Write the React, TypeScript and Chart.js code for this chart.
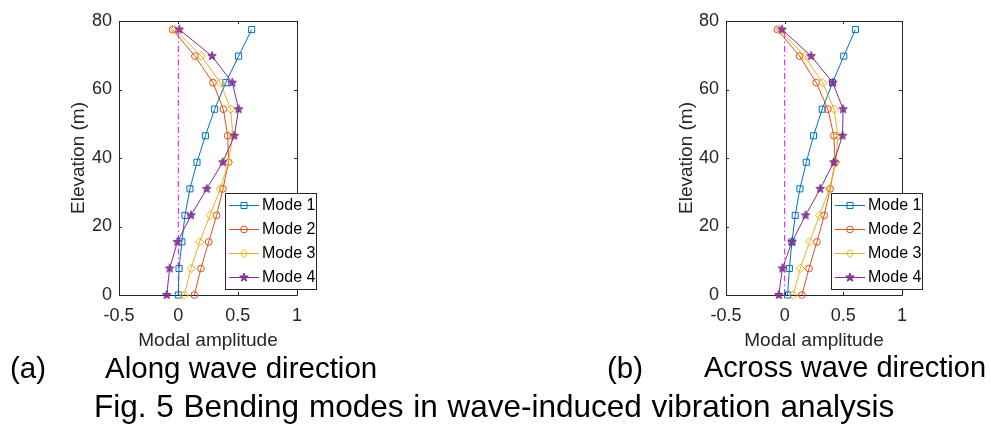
import React, { useEffect, useRef } from 'react';
import { Chart, registerables } from 'chart.js';

Chart.register(...registerables);

// ---------------- data ----------------
const elevations = [0, 7.75, 15.5, 23.25, 31, 38.75, 46.5, 54.25, 62, 69.75, 77.5];

const alongMode1 = [0, 0.006, 0.03, 0.056, 0.098, 0.157, 0.228, 0.306, 0.4, 0.508, 0.618];
const alongMode2 = [0.135, 0.19, 0.256, 0.323, 0.376, 0.424, 0.416, 0.379, 0.292, 0.14, -0.048];
const alongMode3 = [0.05, 0.107, 0.18, 0.267, 0.354, 0.421, 0.46, 0.441, 0.354, 0.194, -0.03];
const alongMode4 = [-0.098, -0.073, -0.008, 0.107, 0.239, 0.374, 0.472, 0.508, 0.455, 0.284, 0.008];

const acrossMode1 = [0.025, 0.04, 0.062, 0.09, 0.13, 0.184, 0.246, 0.32, 0.408, 0.504, 0.603];
const acrossMode2 = [0.147, 0.207, 0.275, 0.337, 0.388, 0.43, 0.419, 0.368, 0.269, 0.127, -0.062];
const acrossMode3 = [0.074, 0.133, 0.212, 0.297, 0.382, 0.436, 0.453, 0.422, 0.323, 0.17, -0.042];
const acrossMode4 = [-0.05, -0.02, 0.062, 0.178, 0.303, 0.419, 0.493, 0.498, 0.41, 0.226, -0.023];

const modeLabels = ['Mode 1', 'Mode 2', 'Mode 3', 'Mode 4'];
const xTickValues = [-0.5, 0, 0.5, 1];
const xTickLabels = ['-0.5', '0', '0.5', '1'];
const yTickValues = [0, 20, 40, 60, 80];
const yTickLabels = ['0', '20', '40', '60', '80'];
const zeroLineX = [0, 0];
const zeroLineY = [0, 77.5];

const xTitle = 'Modal amplitude';
const yTitle = 'Elevation (m)';
const captionA = ['(a)', 'Along wave direction'];
const captionB = ['(b)', 'Across wave direction'];
const figCaption = 'Fig. 5 Bending modes in wave-induced vibration analysis';

// ---------------- styles ----------------
const COLORS = ['#0072BD', '#D95319', '#EDB120', '#7E2F8E'];
const AXIS = '#262626';
const FONT = "'Liberation Sans', Arial, Helvetica, sans-serif";

function drawStar(ctx: CanvasRenderingContext2D, cx: number, cy: number, r: number, color: string) {
  const inner = r * 0.42;
  ctx.save();
  ctx.beginPath();
  for (let i = 0; i < 10; i++) {
    const rad = -Math.PI / 2 + (i * Math.PI) / 5;
    const rr = i % 2 === 0 ? r : inner;
    const px = cx + Math.cos(rad) * rr;
    const py = cy + Math.sin(rad) * rr;
    if (i === 0) ctx.moveTo(px, py);
    else ctx.lineTo(px, py);
  }
  ctx.closePath();
  ctx.fillStyle = color;
  ctx.globalAlpha = 0.85;
  ctx.fill();
  ctx.globalAlpha = 1;
  ctx.strokeStyle = color;
  ctx.lineWidth = 1;
  ctx.stroke();
  ctx.restore();
}

function makeStar(color: string, r: number): HTMLCanvasElement {
  const size = Math.ceil(r * 2 + 3);
  const c = document.createElement('canvas');
  c.width = size;
  c.height = size;
  const ctx = c.getContext('2d')!;
  drawStar(ctx, size / 2, size / 2, r, color);
  return c;
}

function drawMarker(ctx: CanvasRenderingContext2D, i: number, x: number, y: number, color: string) {
  if (i === 3) {
    drawStar(ctx, x, y, 4.5, color);
    return;
  }
  ctx.save();
  ctx.strokeStyle = color;
  ctx.lineWidth = 1;
  ctx.beginPath();
  if (i === 0) {
    ctx.rect(x - 3, y - 3, 6, 6);
  } else if (i === 1) {
    ctx.arc(x, y, 3.4, 0, Math.PI * 2);
  } else {
    ctx.moveTo(x, y - 4.2);
    ctx.lineTo(x + 3.6, y);
    ctx.lineTo(x, y + 4.2);
    ctx.lineTo(x - 3.6, y);
    ctx.closePath();
  }
  ctx.stroke();
  ctx.restore();
}

const matlabPlugin = {
  id: 'matlabAxes',
  beforeDatasetsDraw(chart: any) {
    const { ctx, chartArea } = chart;
    const { left, right, top, bottom } = chartArea;
    const xs = chart.scales.x;
    const ys = chart.scales.y;
    const tl = 3;
    ctx.save();
    ctx.strokeStyle = AXIS;
    ctx.lineWidth = 1;
    ctx.beginPath();
    ctx.rect(Math.round(left) + 0.5, Math.round(top) + 0.5, Math.round(right - left), Math.round(bottom - top));
    xTickValues.forEach((v) => {
      const px = Math.round(xs.getPixelForValue(v)) + 0.5;
      ctx.moveTo(px, bottom);
      ctx.lineTo(px, bottom - tl);
      ctx.moveTo(px, top);
      ctx.lineTo(px, top + tl);
    });
    yTickValues.forEach((v) => {
      const py = Math.round(ys.getPixelForValue(v)) + 0.5;
      ctx.moveTo(left, py);
      ctx.lineTo(left + tl, py);
      ctx.moveTo(right, py);
      ctx.lineTo(right - tl, py);
    });
    ctx.stroke();
    ctx.restore();
  },
  afterDatasetsDraw(chart: any, _args: any, opts: any) {
    const box = opts.box;
    if (!box) return;
    const { ctx } = chart;
    ctx.save();
    ctx.fillStyle = '#ffffff';
    ctx.fillRect(box.x, box.y, box.w, box.h);
    ctx.strokeStyle = AXIS;
    ctx.lineWidth = 1;
    ctx.strokeRect(Math.round(box.x) + 0.5, Math.round(box.y) + 0.5, Math.round(box.w), Math.round(box.h));
    const rowH = box.h / modeLabels.length;
    modeLabels.forEach((label, i) => {
      const cy = box.y + rowH * (i + 0.5);
      const color = COLORS[i];
      ctx.strokeStyle = color;
      ctx.lineWidth = 1;
      ctx.beginPath();
      ctx.moveTo(box.x + 4, Math.round(cy) + 0.5);
      ctx.lineTo(box.x + 34, Math.round(cy) + 0.5);
      ctx.stroke();
      drawMarker(ctx, i, box.x + 19, Math.round(cy) + 0.5, color);
      ctx.fillStyle = '#000000';
      ctx.font = `16px ${FONT}`;
      ctx.textBaseline = 'middle';
      ctx.textAlign = 'left';
      ctx.fillText(label, box.x + 37, cy + 0.5);
    });
    ctx.restore();
  },
};

function makeConfig(series: number[][], geom: any): any {
  const star = makeStar(COLORS[3], 4.5);
  const styles: any[] = ['rect', 'circle', 'rectRot', star];
  const radii = [4.3, 3.4, 4.2, 4.5];
  const datasets: any[] = series.map((vals, i) => ({
    label: modeLabels[i],
    data: vals.map((v, k) => ({ x: v, y: elevations[k] })),
    borderColor: COLORS[i],
    backgroundColor: 'rgba(0,0,0,0)',
    borderWidth: 1,
    pointStyle: styles[i],
    pointRadius: radii[i],
    pointBorderWidth: 1,
    pointBorderColor: COLORS[i],
    pointBackgroundColor: 'rgba(0,0,0,0)',
    tension: 0,
    clip: false,
    order: 4 - i,
  }));
  datasets.push({
    label: 'zero',
    data: zeroLineX.map((v, k) => ({ x: v, y: zeroLineY[k] })),
    borderColor: '#FF00FF',
    borderWidth: 1,
    borderDash: [6, 3, 1.5, 3],
    pointRadius: 0,
    tension: 0,
    clip: false,
    order: 10,
  });
  return {
    type: 'line',
    data: { datasets },
    plugins: [matlabPlugin],
    options: {
      responsive: false,
      animation: false,
      devicePixelRatio: 1,
      events: [],
      layout: { padding: { left: 0, top: geom.top, right: geom.padRight, bottom: 0 } },
      plugins: {
        legend: { display: false },
        tooltip: { enabled: false },
        matlabAxes: { box: geom.legend },
      },
      scales: {
        x: {
          type: 'linear',
          position: 'bottom',
          min: -0.5,
          max: 1,
          afterBuildTicks: (s: any) => {
            s.ticks = xTickValues.map((v) => ({ value: v }));
          },
          ticks: {
            font: { family: FONT, size: 18 },
            color: AXIS,
            padding: 10,
            maxRotation: 0,
            autoSkip: false,
            callback: (v: any) => xTickLabels[xTickValues.indexOf(Number(v))] ?? String(v),
          },
          grid: { display: false, drawTicks: false },
          border: { display: false },
          title: {
            display: true,
            text: xTitle,
            color: AXIS,
            font: { family: FONT, size: 19 },
            padding: { top: 0, bottom: 8 },
          },
          afterFit: (s: any) => {
            s.height = geom.canvasH - geom.bottom;
          },
        },
        y: {
          type: 'linear',
          position: 'left',
          min: 0,
          max: 80,
          afterBuildTicks: (s: any) => {
            s.ticks = yTickValues.map((v) => ({ value: v }));
          },
          ticks: {
            font: { family: FONT, size: 18 },
            color: AXIS,
            padding: 7,
            autoSkip: false,
            callback: (v: any) => yTickLabels[yTickValues.indexOf(Number(v))] ?? String(v),
          },
          grid: { display: false, drawTicks: false },
          border: { display: false },
          title: {
            display: true,
            text: yTitle,
            color: AXIS,
            font: { family: FONT, size: 19 },
            padding: { top: geom.titleOffset, bottom: 0 },
          },
          afterFit: (s: any) => {
            s.width = geom.axisLeft;
          },
        },
      },
    },
  };
}

function ModeChart({ series, geom }: { series: number[][]; geom: any }) {
  const ref = useRef<HTMLCanvasElement | null>(null);
  useEffect(() => {
    if (!ref.current) return;
    const chart = new Chart(ref.current, makeConfig(series, geom));
    return () => chart.destroy();
  }, []);
  return (
    <div style={{ position: 'absolute', left: geom.left, top: 0, width: geom.canvasW, height: geom.canvasH }}>
      <canvas ref={ref} width={geom.canvasW} height={geom.canvasH} style={{ width: geom.canvasW, height: geom.canvasH, display: 'block' }} />
    </div>
  );
}

const geomA = {
  left: 0,
  canvasW: 400,
  canvasH: 360,
  top: 21,
  bottom: 295,
  axisLeft: 119,
  padRight: 400 - 297,
  titleOffset: 67,
  legend: { x: 225, y: 193, w: 91, h: 96 },
};

const geomB = {
  left: 580,
  canvasW: 411,
  canvasH: 360,
  top: 21,
  bottom: 295,
  axisLeft: 146,
  padRight: 411 - 322,
  titleOffset: 95,
  legend: { x: 251, y: 193, w: 91, h: 96 },
};

const capStyle: React.CSSProperties = {
  position: 'absolute',
  fontFamily: FONT,
  fontSize: 29.5,
  lineHeight: 1,
  color: '#000',
  whiteSpace: 'nowrap',
};

export default function App() {
  return (
    <div style={{ position: 'absolute', left: 0, top: 0, width: 991, height: 426, background: '#fff', overflow: 'hidden' }}>
      <ModeChart series={[alongMode1, alongMode2, alongMode3, alongMode4]} geom={geomA} />
      <ModeChart series={[acrossMode1, acrossMode2, acrossMode3, acrossMode4]} geom={geomB} />
      <div style={{ ...capStyle, left: 10, top: 353 }}>{captionA[0]}</div>
      <div style={{ ...capStyle, left: 105, top: 353 }}>{captionA[1]}</div>
      <div style={{ ...capStyle, left: 607, top: 353 }}>{captionB[0]}</div>
      <div style={{ ...capStyle, fontSize: 29, left: 704, top: 353 }}>{captionB[1]}</div>
      <div style={{ ...capStyle, fontSize: 31.5, wordSpacing: 1, left: 94, top: 391 }}>{figCaption}</div>
    </div>
  );
}
